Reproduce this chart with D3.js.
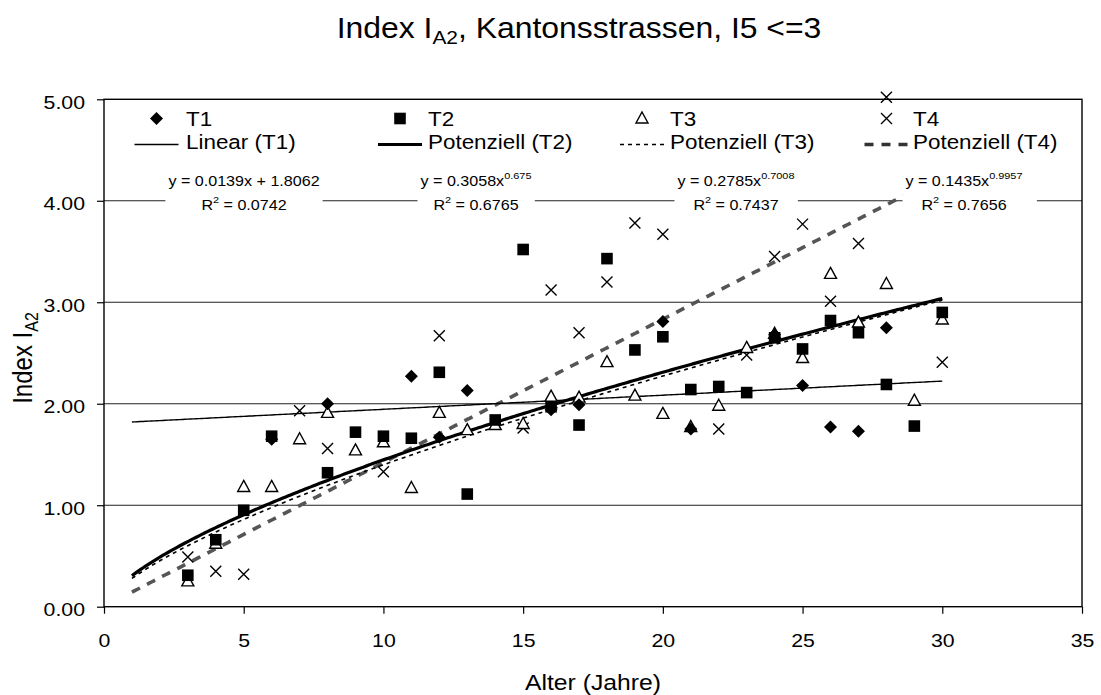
<!DOCTYPE html>
<html><head><meta charset="utf-8">
<script src="https://cdn.jsdelivr.net/npm/d3@7"></script>
<style>
body{margin:0;background:#fff}
text{font-family:"Liberation Sans",Arial,sans-serif;fill:#000}
</style>
</head><body>
<svg id="c" width="1101" height="695"></svg>
<script>
// ---------- data ----------
const t1X=[6,8,11,12,13,16,17,20,21,24,25,26,27,28];
const t1Y=[1.65,2.00,2.27,1.67,2.13,1.94,1.99,2.81,1.75,2.68,2.18,1.77,1.73,2.75];
const t2X=[3,4,5,6,8,9,10,11,12,13,14,15,16,17,18,19,20,21,22,23,24,25,26,27,28,29,30];
const t2Y=[0.31,0.66,0.95,1.68,1.32,1.72,1.68,1.66,2.31,1.11,1.84,3.52,1.97,1.79,3.43,2.53,2.66,2.14,2.17,2.11,2.65,2.54,2.82,2.70,2.19,1.78,2.90];
const t3X=[3,4,5,6,7,8,9,10,11,12,13,14,15,16,17,18,19,20,21,22,23,24,25,26,27,28,29,30];
const t3Y=[0.25,0.62,1.18,1.18,1.65,1.91,1.54,1.62,1.17,1.91,1.74,1.79,1.80,2.07,2.06,2.41,2.08,1.90,1.77,1.98,2.55,2.69,2.45,3.28,2.80,3.18,2.03,2.83];
const t4X=[3,4,5,7,8,10,12,15,16,17,18,19,20,22,23,24,25,26,27,28,30];
const t4Y=[0.49,0.35,0.32,1.93,1.56,1.33,2.67,1.76,3.12,2.70,3.20,3.78,3.67,1.75,2.48,3.45,3.77,3.01,3.58,5.02,2.41];
// trendline coefficients as printed on the chart
const linT1=[0.0139,1.8062];      // slope, intercept
const powT2=[0.3058,0.675];       // a, b  (y = a x^b)
const powT3=[0.2785,0.7008];
const powT4=[0.1435,0.9957];
const trendRange=[1,30];
const eqMain=["y = 0.0139x + 1.8062","y = 0.3058x","y = 0.2785x","y = 0.1435x"];
const eqSup=["","0.675","0.7008","0.9957"];
const eqR2=["0.0742","0.6765","0.7437","0.7656"];
const seriesNames=["T1","T2","T3","T4"];
const trendNames=["Linear (T1)","Potenziell (T2)","Potenziell (T3)","Potenziell (T4)"];
const xTicks=[0,5,10,15,20,25,30,35];
const yTicks=[0,1,2,3,4,5];

// ---------- setup ----------
const SX=1.15;
const svg=d3.select("#c");
const x=d3.scaleLinear().domain([0,35]).range([104,1082]);
const y=d3.scaleLinear().domain([0,5]).range([606.7,99.3]);

// gridlines
svg.append("g").selectAll("line").data(yTicks.filter(d=>d>0&&d<5)).join("line")
  .attr("x1",x(0)).attr("x2",x(35)).attr("y1",d=>y(d)).attr("y2",d=>y(d))
  .attr("stroke","#222").attr("stroke-width",1.1);

// axes
const xAxis=svg.append("g").attr("transform",`translate(0,${y(0)})`)
  .call(d3.axisBottom(x).tickValues(xTicks).tickSize(7).tickSizeOuter(0).tickFormat(d3.format("d")));
xAxis.select(".domain").remove();
xAxis.selectAll("line").attr("stroke","#000").attr("stroke-width",1.2);
xAxis.selectAll("text").attr("y",40).attr("dy",0).attr("font-size",18.5).attr("transform",`scale(${SX},1)`);

const yAxis=svg.append("g").attr("transform",`translate(${x(0)},0)`)
  .call(d3.axisLeft(y).tickValues(yTicks).tickSize(7).tickSizeOuter(0).tickFormat(d3.format(".2f")));
yAxis.select(".domain").remove();
yAxis.selectAll("line").attr("stroke","#000").attr("stroke-width",1.2);
yAxis.selectAll("text").attr("x",-19/SX).attr("y",9).attr("dy",0).attr("font-size",18.5).attr("transform",`scale(${SX},1)`);

// plot border
svg.append("rect").attr("x",x(0)).attr("y",y(5)).attr("width",x(35)-x(0)).attr("height",y(0)-y(5))
  .attr("fill","none").attr("stroke","#000").attr("stroke-width",1.4);

// trendlines
const line=d3.line().x(d=>x(d[0])).y(d=>y(d[1]));
const xs=d3.range(trendRange[0],trendRange[1]+0.0001,0.1);
const trendStyles=[
  {w:1.4,c:"#000",dash:null},
  {w:3.2,c:"#000",dash:null},
  {w:1.6,c:"#000",dash:"4,4"},
  {w:3.6,c:"#555",dash:"9,8"}];
const trendData=[
  xs.map(v=>[v,linT1[0]*v+linT1[1]]),
  xs.map(v=>[v,powT2[0]*Math.pow(v,powT2[1])]),
  xs.map(v=>[v,powT3[0]*Math.pow(v,powT3[1])]),
  xs.map(v=>[v,powT4[0]*Math.pow(v,powT4[1])])];
const gT=svg.append("g");
[3,2,0,1].forEach(i=>{
  gT.append("path").datum(trendData[i]).attr("d",line).attr("fill","none")
    .attr("stroke",trendStyles[i].c).attr("stroke-width",trendStyles[i].w)
    .attr("stroke-dasharray",trendStyles[i].dash);
});

// markers
function marker(g,type,cx,cy){
  if(type===0){
    g.append("path").attr("d",`M${cx},${cy-6.5}L${cx+6.5},${cy}L${cx},${cy+6.5}L${cx-6.5},${cy}Z`).attr("fill","#000");
  }else if(type===1){
    g.append("rect").attr("x",cx-5.8).attr("y",cy-5.8).attr("width",11.6).attr("height",11.6).attr("fill","#000");
  }else if(type===2){
    g.append("path").attr("d",`M${cx},${cy-6.5}L${cx+6},${cy+4.5}L${cx-6},${cy+4.5}Z`).attr("fill","#fff").attr("stroke","#000").attr("stroke-width",1.4);
  }else{
    g.append("path").attr("d",`M${cx-5.5},${cy-5.5}L${cx+5.5},${cy+5.5}M${cx+5.5},${cy-5.5}L${cx-5.5},${cy+5.5}`).attr("stroke","#000").attr("stroke-width",1.4).attr("fill","none");
  }
}
const series=[[t1X,t1Y],[t2X,t2Y],[t3X,t3Y],[t4X,t4Y]];
const gM=svg.append("g");
[3,2,0,1].forEach(i=>{
  const [xa,ya]=series[i];
  xa.forEach((v,k)=>marker(gM,i,x(v),y(ya[k])));
});

// equation labels
const eqCx=[244,476,736,964];
const eqPadR=[3,3,3,14];
const eqY1=186, eqY2=210;
eqMain.forEach((m,i)=>{
  const outer=svg.append("g").attr("transform",`translate(${eqCx[i]},0)`);
  const bg=outer.append("rect").attr("fill","#fff");
  const inner=outer.append("g").attr("transform",`scale(${SX},1)`);
  const t1=inner.append("text").attr("y",eqY1).attr("text-anchor","middle").attr("font-size",14);
  t1.append("tspan").text(m);
  if(eqSup[i]) t1.append("tspan").attr("font-size",9.5).attr("dy",-7).text(eqSup[i]);
  const t2=inner.append("text").attr("y",eqY2).attr("text-anchor","middle").attr("font-size",14);
  t2.append("tspan").text("R");
  t2.append("tspan").attr("font-size",9.5).attr("dy",-7).text("2");
  t2.append("tspan").attr("dy",7).text(" = "+eqR2[i]);
  const bb=inner.node().getBBox();
  bg.attr("x",bb.x*SX-3).attr("y",bb.y-3).attr("width",bb.width*SX+3+eqPadR[i]).attr("height",bb.height+6);
});

// legend
const legCol=[156.5,400,642,886.5];
const legText=[186,428,670,913];
const legY1=126, legY2=149, legLineY=144.5;
seriesNames.forEach((n,i)=>{
  marker(svg,i,legCol[i],legY1-7.5);
  svg.append("g").attr("transform",`translate(${legText[i]},${legY1}) scale(${SX},1)`)
    .append("text").attr("font-size",19.5).text(n);
  svg.append("line").attr("x1",legCol[i]-22).attr("x2",legCol[i]+22).attr("y1",legLineY).attr("y2",legLineY)
    .attr("stroke",i===3?"#333":trendStyles[i].c).attr("stroke-width",trendStyles[i].w)
    .attr("stroke-dasharray",trendStyles[i].dash);
  svg.append("g").attr("transform",`translate(${legText[i]},${legY2}) scale(${SX},1)`)
    .append("text").attr("font-size",19.5).text(trendNames[i]);
});

// title
const tt=svg.append("g").attr("transform",`translate(579,38) scale(1.1,1)`)
  .append("text").attr("text-anchor","middle").attr("font-size",29);
tt.append("tspan").text("Index I");
tt.append("tspan").attr("font-size",19).attr("dy",6).text("A2");
tt.append("tspan").attr("dy",-6).text(", Kantonsstrassen, I5 <=3");

// axis titles
svg.append("g").attr("transform",`translate(593,689.5) scale(${SX},1)`)
  .append("text").attr("text-anchor","middle").attr("font-size",21.5).text("Alter (Jahre)");
const yt=svg.append("g").attr("transform",`translate(32,358) scale(${SX},1) rotate(-90)`)
  .append("text").attr("text-anchor","middle").attr("font-size",24);
yt.append("tspan").text("Index I");
yt.append("tspan").attr("font-size",16).attr("dy",5).text("A2");
</script>
</body></html>
